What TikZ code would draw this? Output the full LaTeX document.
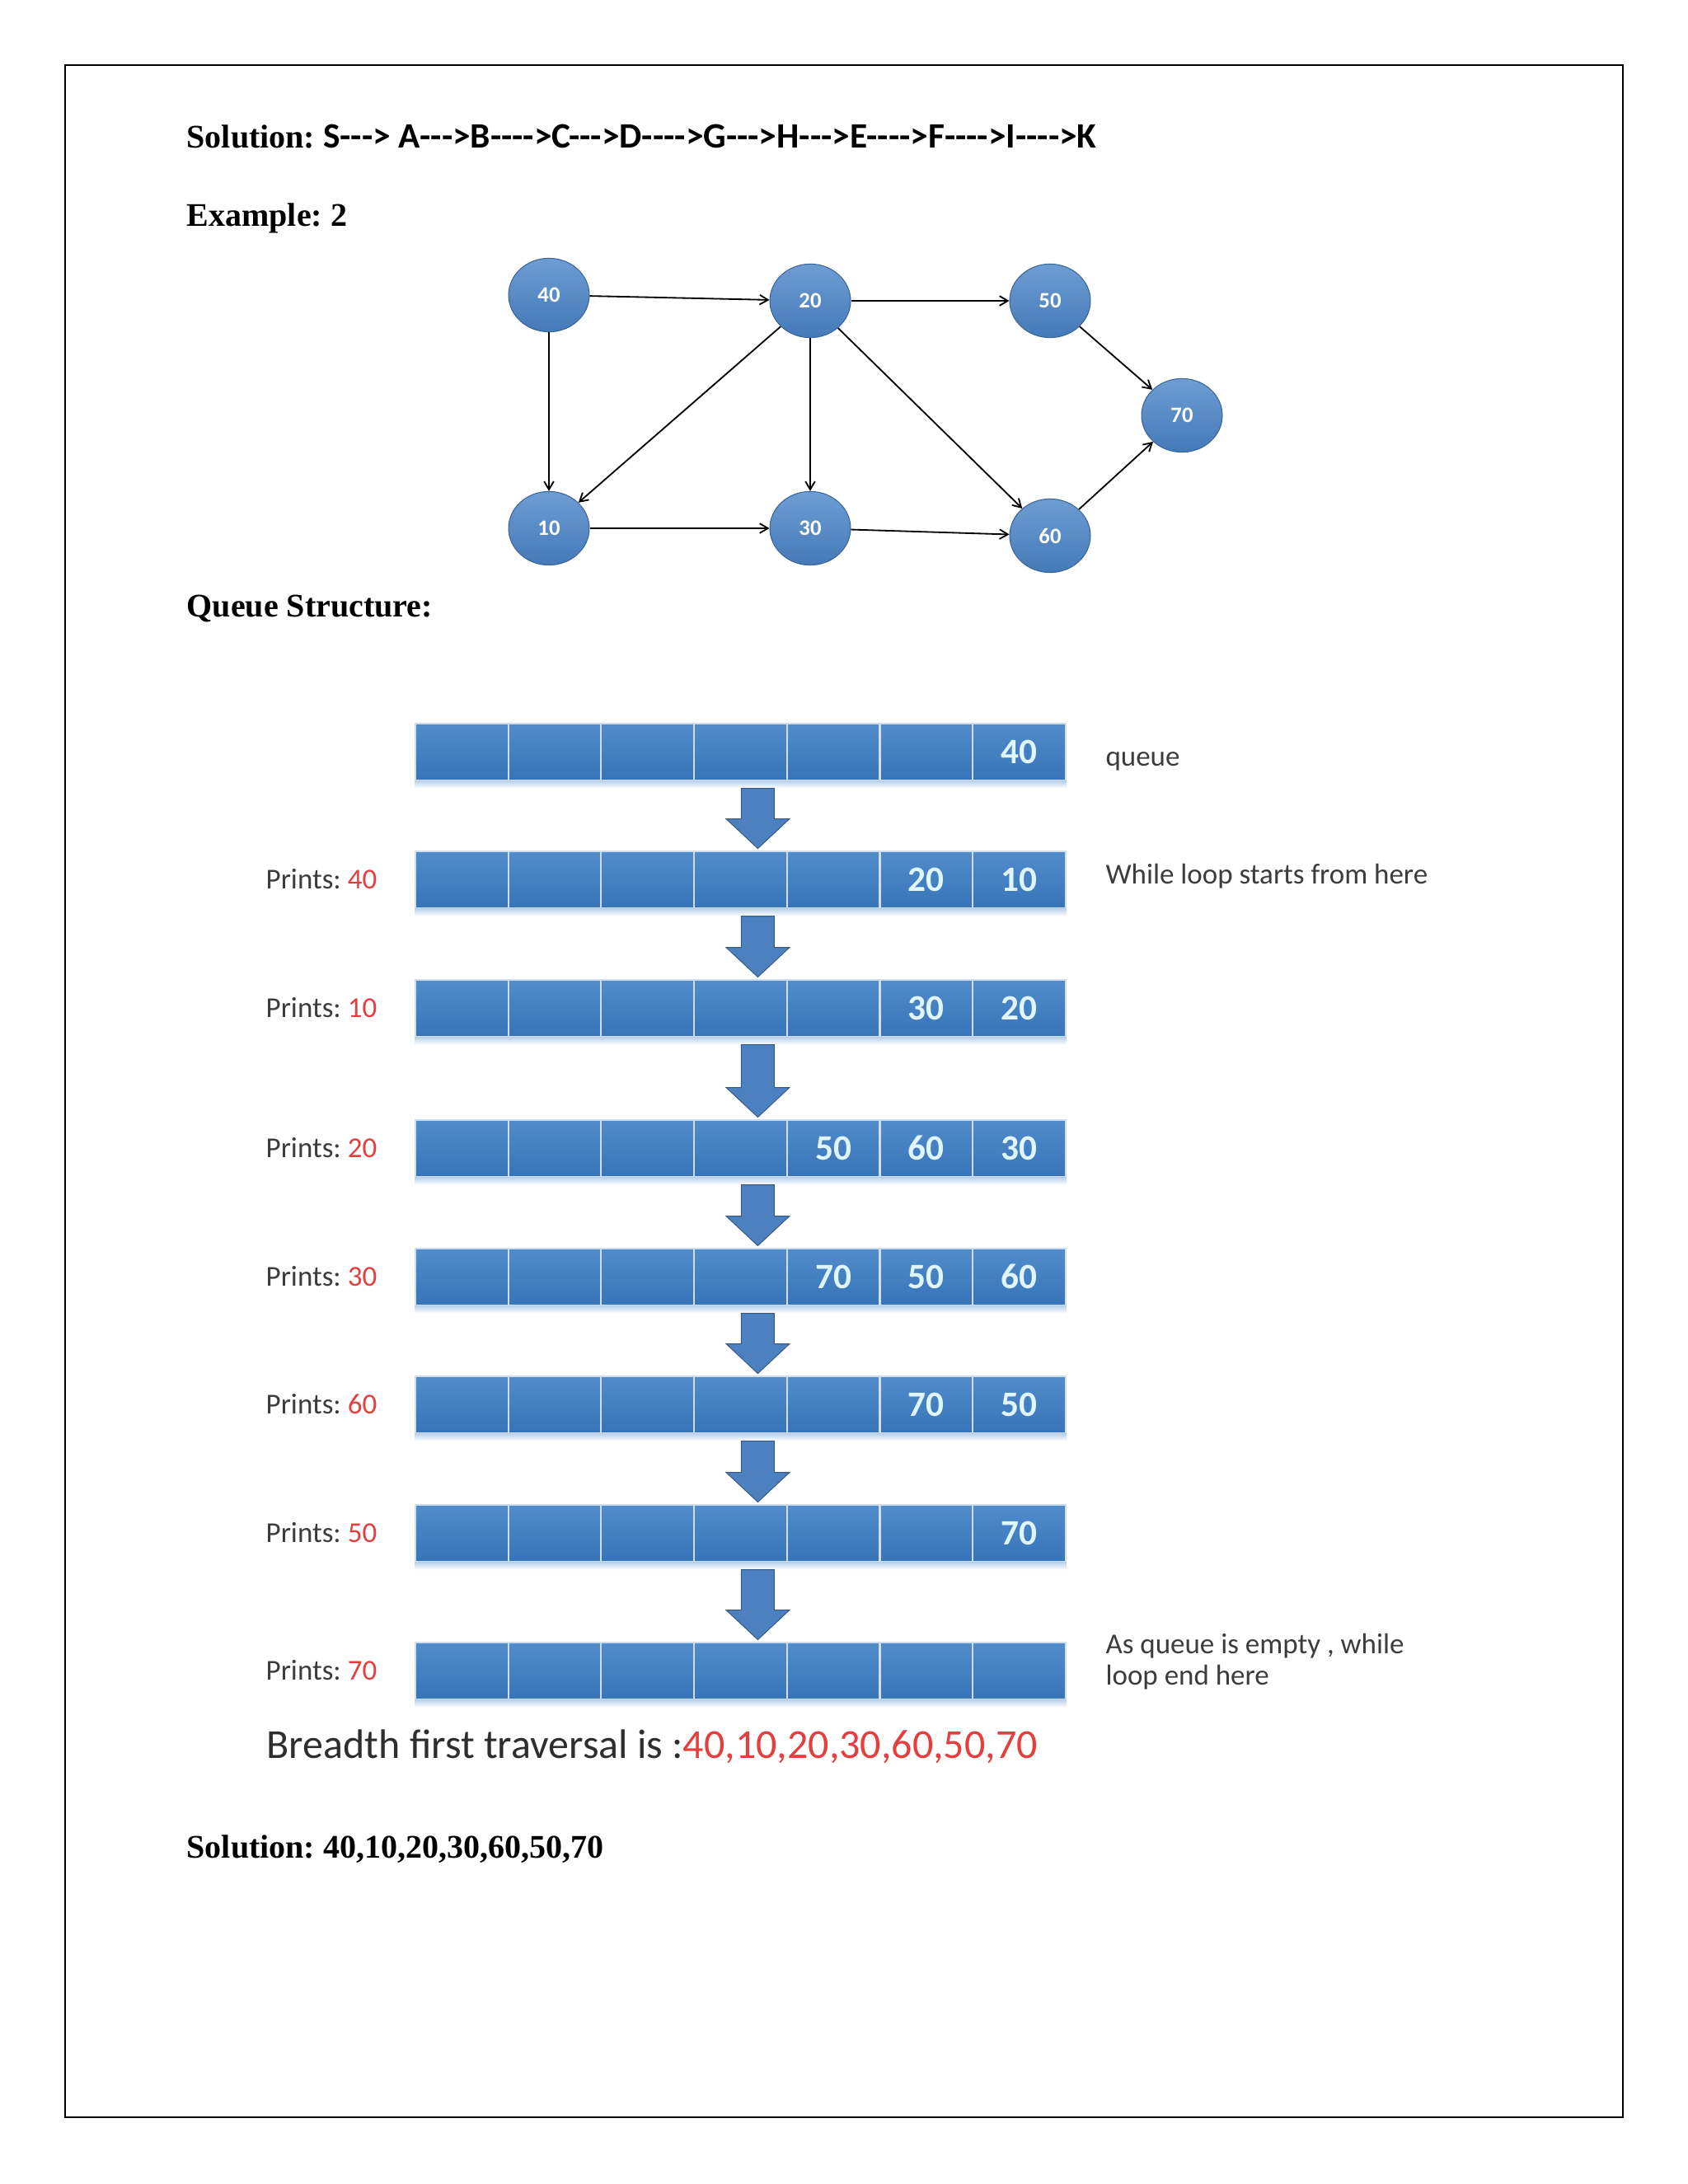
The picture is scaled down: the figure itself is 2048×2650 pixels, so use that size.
\documentclass[tikz,border=0pt]{standalone}
\usepackage{fontspec}
\setmainfont{Liberation Serif}
\newfontfamily\calfont{Carlito}
\usetikzlibrary{arrows.meta,calc,shapes.geometric}
\frenchspacing

\definecolor{nodeblue}{RGB}{74,132,200}
\definecolor{cellblue}{RGB}{58,124,196}
\definecolor{arrowblue}{RGB}{76,128,190}
\definecolor{printred}{RGB}{228,62,62}
\definecolor{textgray}{RGB}{60,60,60}

\newcommand\hy{-\kern0pt}

\begin{document}
\begin{tikzpicture}[x=0.3pt, y=-0.3pt,
    heading/.style={anchor=west, inner sep=0pt, font=\bfseries\fontsize{12}{14}\selectfont},
    vertex/.style={ellipse, draw=nodeblue!75!black, line width=0.3pt, top color=nodeblue!80!white, bottom color=nodeblue!92!black, minimum width=29.4pt, minimum height=26.8pt, inner sep=0pt, text=white, font=\calfont\bfseries\fontsize{8}{9}\selectfont},
    line/.style={draw, line width=0.55pt, -{Straight Barb[length=3pt, width=3.5pt]}},
    cell/.style={rectangle, draw=white!75!cellblue, line width=0.6pt, top color=cellblue!88!white, bottom color=cellblue!94!black, minimum width=33.8pt, minimum height=20.7pt, inner sep=0pt, text=white!88!cyan, font=\calfont\bfseries\fontsize{13}{15}\selectfont},
    qarrow/.style={fill=arrowblue, draw=arrowblue!70!black, line width=0.3pt},
    prints/.style={anchor=west, inner sep=0pt, text=textgray, font=\calfont\fontsize{10.5}{12}\selectfont},
    note/.style={anchor=west, inner sep=0pt, align=left, text=textgray, font=\calfont\fontsize{10.5}{11.2}\selectfont}
]
    \useasboundingbox (0,0) rectangle (2048,2650);
    \draw[line width=0.6pt] (79,79) rectangle (1969,2569);

    % Headings
    \node[heading] (sol1) at (226,166) {Solution: {\calfont\fontsize{13}{15}\selectfont S\hy\hy\hy> A\hy\hy\hy>B\hy\hy\hy\hy>C\hy\hy\hy>D\hy\hy\hy\hy>G\hy\hy\hy>H\hy\hy\hy>E\hy\hy\hy\hy>F\hy\hy\hy\hy>I\hy\hy\hy\hy>K}};
    \node[heading] (ex2) at (226,265) {Example: 2};
    \node[heading] (qs) at (226,738) {Queue Structure:};

    % Graph
    \node[vertex] (n40) at (666,358) {40};
    \node[vertex] (n20) at (983,365) {20};
    \node[vertex] (n50) at (1274,365) {50};
    \node[vertex] (n70) at (1434,504) {70};
    \node[vertex] (n10) at (666,641) {10};
    \node[vertex] (n30) at (983,641) {30};
    \node[vertex] (n60) at (1274,650) {60};

    \foreach \a/\b in {n40/n20, n40/n10, n20/n10, n20/n30, n20/n50, n20/n60, n10/n30, n30/n60, n50/n70, n60/n70} {
        \draw[line] (\a) -- (\b);
    }

    % Queue rows
    \foreach \r/\y/\a/\b/\c in {1/912/{}/{}/40, 2/1067/{}/20/10, 3/1223/{}/30/20, 4/1393/50/60/30,
                                5/1549/70/50/60, 6/1704/{}/70/50, 7/1860/{}/{}/70, 8/2027/{}/{}/{}} {
        \foreach \k in {1,...,4} {
            \node[cell] (c\r-\k) at (447.65+\k*112.7, \y) {};
        }
        \node[cell] (c\r-5) at (1011.15, \y) {\a};
        \node[cell] (c\r-6) at (1123.85, \y) {\b};
        \node[cell] (c\r-7) at (1236.55, \y) {\c};
        \shade[top color=cellblue!35, bottom color=white] (c\r-1.south west) rectangle ($(c\r-7.south east)+(0,9)$);
    }

    % Arrows between rows
    \foreach \r [count=\n from 2] in {1,...,7} {
        \filldraw[qarrow] ($(c\r-4.south)+(1,9)$) -- ($(c\r-4.south)+(41,9)$)
            -- ($(c\n-4.north)+(41,-38)$) -- ($(c\n-4.north)+(59.5,-38)$)
            -- ($(c\n-4.north)+(21,-2)$)
            -- ($(c\n-4.north)+(-17.5,-38)$) -- ($(c\n-4.north)+(1,-38)$) -- cycle;
    }

    % Printed values
    \foreach \r/\p in {2/40, 3/10, 4/20, 5/30, 6/60, 7/50, 8/70} {
        \node[prints] (p\r) at ($(c\r-1.west)+(-181,0)$) {Prints: \textcolor{printred}{\p}};
    }

    % Notes
    \node[note] (qlabel) at ($(c1-7.east)+(47,12)$) {queue};
    \node[note] (wstart) at ($(c2-7.east)+(47,-4)$) {While loop starts from here};
    \node[note] (wend) at ($(c8-7.east)+(47,-11)$) {As queue is empty , while\\loop end here};

    \node[anchor=west, inner sep=0pt, text=black!82, font=\calfont\fontsize{15}{17}\selectfont] (bft) at (323,2119)
        {Breadth first traversal is :\textcolor{printred}{40,10,20,30,60,50,70}};

    \node[heading] (sol2) at (226,2244) {Solution: 40,10,20,30,60,50,70};
\end{tikzpicture}
\end{document}
